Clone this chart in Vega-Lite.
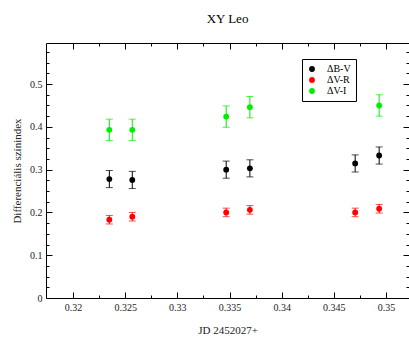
{
  "$schema": "https://vega.github.io/schema/vega-lite/v6.json",
  "width": 363,
  "height": 255,
  "autosize": {"type": "none"},
  "padding": {"left": 46, "top": 43, "right": 0, "bottom": 42},
  "background": "white",
  "title": {"text": "XY Leo", "font": "Liberation Serif", "fontSize": 13, "fontWeight": "normal", "color": "black", "offset": 17},
  "config": {
    "view": {"stroke": null},
    "axis": {"domainColor": "black", "tickColor": "black", "labelFont": "Liberation Serif", "labelFontSize": 10, "labelColor": "#222", "titleFont": "Liberation Serif", "titleFontSize": 11, "titleFontWeight": "normal", "titleColor": "#222", "grid": false},
    "legend": {"orient": "none", "legendX": 256, "legendY": 16, "title": null, "strokeColor": "black", "fillColor": "white", "padding": 5, "symbolType": "circle", "symbolSize": 34, "symbolOpacity": 1, "labelFont": "Liberation Serif", "labelFontSize": 10, "labelColor": "black", "rowPadding": 1, "labelOffset": 10, "symbolStrokeWidth": 0, "labelLimit": 60}
  },
  "data": {"values": [
    {"s": "ΔB-V", "jd": 0.32348, "v": 0.278, "e": 0.02},
    {"s": "ΔV-R", "jd": 0.32348, "v": 0.183, "e": 0.01},
    {"s": "ΔV-I", "jd": 0.32348, "v": 0.393, "e": 0.025},
    {"s": "ΔB-V", "jd": 0.32568, "v": 0.276, "e": 0.02},
    {"s": "ΔV-R", "jd": 0.32568, "v": 0.19, "e": 0.01},
    {"s": "ΔV-I", "jd": 0.32568, "v": 0.393, "e": 0.025},
    {"s": "ΔB-V", "jd": 0.33468, "v": 0.3, "e": 0.02},
    {"s": "ΔV-R", "jd": 0.33468, "v": 0.2, "e": 0.01},
    {"s": "ΔV-I", "jd": 0.33468, "v": 0.424, "e": 0.025},
    {"s": "ΔB-V", "jd": 0.33695, "v": 0.303, "e": 0.02},
    {"s": "ΔV-R", "jd": 0.33695, "v": 0.206, "e": 0.01},
    {"s": "ΔV-I", "jd": 0.33695, "v": 0.446, "e": 0.025},
    {"s": "ΔB-V", "jd": 0.34704, "v": 0.3145, "e": 0.02},
    {"s": "ΔV-R", "jd": 0.34704, "v": 0.2, "e": 0.01},
    {"s": "ΔB-V", "jd": 0.34934, "v": 0.333, "e": 0.02},
    {"s": "ΔV-R", "jd": 0.34934, "v": 0.2086, "e": 0.01},
    {"s": "ΔV-I", "jd": 0.34934, "v": 0.45, "e": 0.025}
  ]},
  "resolve": {"axis": {"x": "independent", "y": "independent"}},
  "layer": [
    {
      "mark": {"type": "errorbar", "ticks": {"size": 7}},
      "encoding": {
        "x": {"field": "jd", "type": "quantitative", "scale": {"domain": [0.31741, 0.3522], "nice": false, "zero": false},
          "axis": {"orient": "bottom", "title": "JD 2452027+", "titlePadding": 12, "values": [0.32, 0.3225, 0.325, 0.3275, 0.33, 0.3325, 0.335, 0.3375, 0.34, 0.3425, 0.345, 0.3475, 0.35],
            "format": "~g", "labelExpr": "abs(datum.value*200 - round(datum.value*200)) < 0.01 ? datum.label : ''",
            "tickSize": {"condition": {"test": "abs(datum.value*200 - round(datum.value*200)) < 0.01", "value": -6}, "value": -3}, "labelPadding": 10}},
        "y": {"field": "v", "type": "quantitative", "scale": {"domain": [0, 0.596], "nice": false},
          "axis": {"orient": "left", "title": "Differenciális színindex", "titlePadding": 7, "values": [0, 0.025, 0.05, 0.075, 0.1, 0.125, 0.15, 0.175, 0.2, 0.225, 0.25, 0.275, 0.3, 0.325, 0.35, 0.375, 0.4, 0.425, 0.45, 0.475, 0.5, 0.525, 0.55, 0.575],
            "format": "~g", "labelExpr": "abs(datum.value*10 - round(datum.value*10)) < 0.001 ? datum.label : ''",
            "tickSize": {"condition": {"test": "abs(datum.value*10 - round(datum.value*10)) < 0.001", "value": -6}, "value": -3}, "labelPadding": 10}},
        "yError": {"field": "e"},
        "color": {"field": "s", "type": "nominal", "scale": {"domain": ["ΔB-V", "ΔV-R", "ΔV-I"], "range": ["#000000", "#ff0000", "#00ee00"]}}
      }
    },
    {
      "mark": {"type": "point", "filled": true, "size": 34, "opacity": 1},
      "encoding": {
        "x": {"field": "jd", "type": "quantitative",
          "axis": {"orient": "top", "title": null, "labels": false, "values": [0.32, 0.3225, 0.325, 0.3275, 0.33, 0.3325, 0.335, 0.3375, 0.34, 0.3425, 0.345, 0.3475, 0.35],
            "tickSize": {"condition": {"test": "abs(datum.value*200 - round(datum.value*200)) < 0.01", "value": -6}, "value": -3}}},
        "y": {"field": "v", "type": "quantitative",
          "axis": {"orient": "right", "title": null, "labels": false, "values": [0, 0.025, 0.05, 0.075, 0.1, 0.125, 0.15, 0.175, 0.2, 0.225, 0.25, 0.275, 0.3, 0.325, 0.35, 0.375, 0.4, 0.425, 0.45, 0.475, 0.5, 0.525, 0.55, 0.575],
            "tickSize": {"condition": {"test": "abs(datum.value*10 - round(datum.value*10)) < 0.001", "value": -6}, "value": -3}}},
        "color": {"field": "s", "type": "nominal"}
      }
    }
  ]
}
